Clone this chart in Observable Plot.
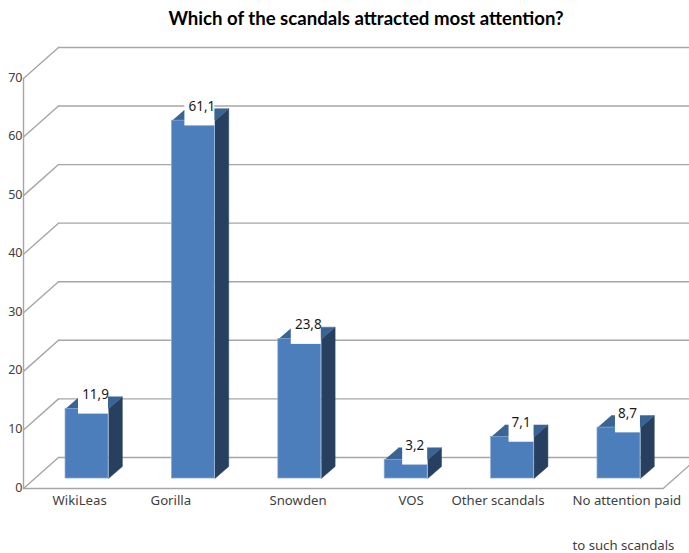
<!DOCTYPE html>
<html>
<head>
<meta charset="utf-8">
<script src="https://cdn.jsdelivr.net/npm/d3@7"></script>
<script src="https://cdn.jsdelivr.net/npm/@observablehq/plot@0.6"></script>
<style>
  html, body { margin: 0; padding: 0; background: #fff; }
  #title { height: 36px; padding-left: 43px; text-align: center; font: bold 18.6px/37px Lato, sans-serif; color: #000; }
  svg { display: block; }
</style>
</head>
<body>
<div id="title">Which of the scandals attracted most attention?</div>
<div id="chart"></div>
<script>
// Data
const categories = ["WikiLeas", "Gorilla", "Snowden", "VOS", "Other scandals", "No attention paid"];
const categoryLine2 = ["", "", "", "", "", "to such scandals"];
const values = [11.9, 61.1, 23.8, 3.2, 7.1, 8.7];
const valueLabels = ["11,9", "61,1", "23,8", "3,2", "7,1", "8,7"];
const yTicks = [0, 10, 20, 30, 40, 50, 60, 70];

// Pseudo-3D geometry, in data units (x = category index, y = percent)
const depthX = 0.329, depthY = 5.3;       // wall depth
const barHalf = 0.202, barDX = 0.13, barDY = 2.05, barBase = 1.7;
const xMin = -0.597, xMax = 5.663, floorEnd = 5.416;
const labelNudge = [-0.324, -0.403, -0.285, -0.072, -0.574, -0.437];

const rows = categories.map((name, i) => ({name, line2: categoryLine2[i], i, v: values[i], label: valueLabels[i], top: barBase + values[i]}));

const wall = yTicks.flatMap(t => [
  [{x: xMin, y: t, k: `d${t}`}, {x: xMin + depthX, y: t + depthY, k: `d${t}`}],
  [{x: xMin + depthX, y: t + depthY, k: `b${t}`}, {x: xMax, y: t + depthY, k: `b${t}`}]
]).flat();
const frame = [
  {x: xMin, y: 70, k: "v"}, {x: xMin, y: 0, k: "v"}, {x: floorEnd, y: 0, k: "v"},
  {x: xMax, y: (xMax - floorEnd) / depthX * depthY, k: "v"}
];

const sides = rows.flatMap(r => [
  {x: r.i + barHalf, y: barBase}, {x: r.i + barHalf + barDX, y: barBase + barDY},
  {x: r.i + barHalf + barDX, y: r.top + barDY}, {x: r.i + barHalf, y: r.top}
].map(p => ({...p, k: r.i})));
const tops = rows.flatMap(r => [
  {x: r.i - barHalf, y: r.top}, {x: r.i + barHalf, y: r.top},
  {x: r.i + barHalf + barDX, y: r.top + barDY}, {x: r.i - barHalf + barDX, y: r.top + barDY}
].map(p => ({...p, k: r.i})));

const font = "'Noto Sans', sans-serif";
const chart = Plot.plot({
  width: 689, height: 517,
  marginLeft: 23, marginRight: 0, marginTop: 0, marginBottom: 0,
  style: {background: "#fff", fontFamily: font},
  x: {type: "linear", domain: [xMin, xMax], range: [23, 689], axis: null},
  y: {type: "linear", domain: [0, 70], range: [452, 42], axis: null},
  marks: [
    Plot.line(wall, {x: "x", y: "y", z: "k", stroke: "#a6a6a6", strokeWidth: 1.4}),
    Plot.line(frame, {x: "x", y: "y", z: "k", stroke: "#a6a6a6", strokeWidth: 1.4}),
    Plot.axisY({ticks: yTicks, tickSize: 0, tickPadding: 1, fontSize: 12.5, color: "#404040", tickFormat: d => d, label: null, anchor: "left", dy: -1}),
    Plot.line(sides, {x: "x", y: "y", z: "k", fill: "#27405f", stroke: "#27405f", strokeWidth: 0.5}),
    Plot.line(tops, {x: "x", y: "y", z: "k", fill: "#3a6493", stroke: "#3a6493", strokeWidth: 0.5}),
    Plot.rect(rows, {x1: d => d.i - barHalf, x2: d => d.i + barHalf, y1: barBase, y2: "top", fill: "#4c7ebb", stroke: "#8aaed8", strokeWidth: 0.7}),
    Plot.rect(rows, {
      x1: d => d.i + barHalf - (d.label.length > 3 ? 0.282 : 0.235),
      x2: d => d.i + barHalf,
      y1: d => d.top - 0.9, y2: d => d.top + 3.25,
      fill: "#fff"
    }),
    Plot.text(rows, {x: d => d.i + 0.08, y: d => d.top + 2.4, text: "label", fontSize: 13.5, fill: "#1a1a1a"}),
    Plot.text(rows, {x: d => d.i + labelNudge[d.i], y: -2.1, text: "name", textAnchor: "start", fontSize: 13.2, fill: "#404040"}),
    Plot.text(rows.filter(d => d.line2), {x: d => d.i + labelNudge[d.i], y: -9.85, text: "line2", textAnchor: "start", fontSize: 13.2, fill: "#404040"})
  ]
});
document.getElementById("chart").append(chart);
</script>
</body>
</html>
